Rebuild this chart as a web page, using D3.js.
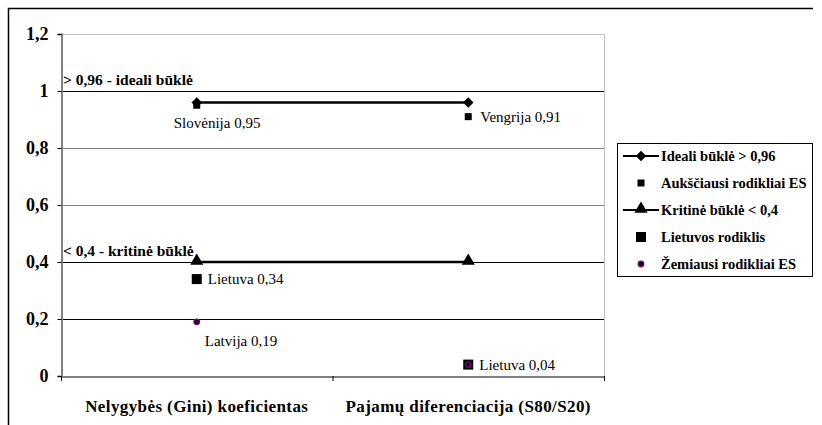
<!DOCTYPE html>
<html><head><meta charset="utf-8">
<script src="https://cdn.jsdelivr.net/npm/d3@7"></script>
<style>body{margin:0;background:#fff}svg{display:block}</style>
</head><body><svg id="c" width="822" height="425"></svg>
<script>
const categories = ["Nelygybės (Gini) koeficientas", "Pajamų diferenciacija (S80/S20)"];
const idealValues = [0.96, 0.96];
const highestValues = [0.95, 0.91];
const highestLabels = ["Slovėnija 0,95", "Vengrija 0,91"];
const criticalValues = [0.4, 0.4];
const lithuaniaValues = [0.34, 0.04];
const lithuaniaLabels = ["Lietuva 0,34", "Lietuva 0,04"];
const lowestValues = [0.19, 0.04];
const lowestLabels = ["Latvija 0,19", null];
const yTicks = [0, 0.2, 0.4, 0.6, 0.8, 1, 1.2];
const seriesNames = ["Ideali būklė > 0,96", "Aukščiausi rodikliai ES", "Kritinė būklė < 0,4", "Lietuvos rodiklis", "Žemiausi rodikliai ES"];
const annotations = [{v: 1, t: "> 0,96 - ideali būklė"}, {v: 0.4, t: "< 0,4 - kritinė būklė"}];

const FONT = "'Liberation Serif','Times New Roman',serif";
const svg = d3.select("#c").attr("font-family", FONT);
const L = 61, R = 604, T = 34, B = 376;
const x = d3.scaleBand().domain(categories).range([L, R]);
const y = d3.scaleLinear().domain([0, 1.2]).range([B, T]);
const cx = c => x(c) + x.bandwidth() / 2;

svg.append("path").attr("d", `M8.5,425 V8.5 H813`).attr("fill", "none").attr("stroke", "#000").attr("stroke-width", 1.5);

const darkGrid = new Set([1, 0.4, 0.2]);
svg.append("g").selectAll("line").data(yTicks.filter(v => v > 0)).join("line")
  .attr("x1", L).attr("x2", R).attr("y1", d => Math.round(y(d)) + 0.5).attr("y2", d => Math.round(y(d)) + 0.5)
  .attr("stroke", d => darkGrid.has(d) ? "#000" : "#808080").attr("stroke-width", 1);
svg.append("path").attr("d", `M${L},${T + 0.5} H${R + 0.5} V${B}`).attr("fill", "none").attr("stroke", "#c0c0c0");

const yAxis = svg.append("g").attr("transform", `translate(${L + 0.5},0)`)
  .call(d3.axisLeft(y).tickValues(yTicks).tickSize(4).tickFormat(d => String(d).replace(".", ",")));
yAxis.attr("font-family", FONT);
yAxis.select(".domain").attr("stroke", "#808080").attr("stroke-width", 2);
yAxis.selectAll(".tick line").attr("stroke", "#000");
yAxis.selectAll("text").attr("font-weight", "bold").attr("font-size", 18).attr("fill", "#000").attr("x", -13);

const xAxis = svg.append("g").attr("transform", `translate(0,${B + 0.5})`)
  .call(d3.axisBottom(x).tickSize(0).tickFormat(""));
xAxis.select(".domain").attr("stroke", "#808080").attr("stroke-width", 2);
svg.append("g").selectAll("line").data([L, L + x.bandwidth(), R]).join("line")
  .attr("x1", d => d + 0.5).attr("x2", d => d + 0.5).attr("y1", B).attr("y2", B + 5).attr("stroke", "#000");
svg.append("g").selectAll("text").data(categories).join("text")
  .attr("x", d => cx(d)).attr("y", 412).attr("text-anchor", "middle")
  .attr("font-weight", "bold").attr("font-size", 17).attr("letter-spacing", 0.4).text(d => d);

svg.append("g").selectAll("text").data(annotations).join("text")
  .attr("x", 63).attr("y", d => y(d.v) - 6).attr("font-weight", "bold").attr("font-size", 15.5).text(d => d.t);

const line = d3.line().x((d, i) => cx(categories[i])).y(d => y(d));
svg.append("path").datum(idealValues).attr("d", line).attr("fill", "none").attr("stroke", "#000").attr("stroke-width", 2.5);
svg.append("path").datum(criticalValues).attr("d", line).attr("fill", "none").attr("stroke", "#000").attr("stroke-width", 2.5);

const diamond = d3.symbol().type(d3.symbolDiamond2).size(70);
const tri = d3.symbol().type(d3.symbolTriangle).size(75);

svg.append("g").selectAll("rect").data(highestValues).join("rect")
  .attr("x", (d, i) => cx(categories[i]) - 3.5).attr("y", d => y(d) - 3.5).attr("width", 7).attr("height", 7).attr("fill", "#000");
svg.append("g").selectAll("rect").data(lithuaniaValues).join("rect")
  .attr("x", (d, i) => cx(categories[i]) - 5).attr("y", d => y(d) - 5).attr("width", 10).attr("height", 10).attr("fill", "#000");
svg.append("g").selectAll("circle").data(lowestValues).join("circle")
  .attr("cx", (d, i) => cx(categories[i])).attr("cy", d => y(d)).attr("r", 2.8)
  .attr("fill", "#000").attr("stroke", "#800080").attr("stroke-width", 1.3);
svg.append("g").selectAll("path").data(idealValues).join("path")
  .attr("transform", (d, i) => `translate(${cx(categories[i])},${y(d)})`).attr("d", diamond).attr("fill", "#000");
svg.append("g").selectAll("path").data(criticalValues).join("path")
  .attr("transform", (d, i) => `translate(${cx(categories[i])},${y(d) - 1})`).attr("d", tri).attr("fill", "#000");

const lab = svg.append("g").attr("font-size", 15);
lab.append("text").attr("x", cx(categories[0]) - 23).attr("y", y(highestValues[0]) + 23).text(highestLabels[0]);
lab.append("text").attr("x", cx(categories[1]) + 12).attr("y", y(highestValues[1]) + 5).text(highestLabels[1]);
lithuaniaValues.forEach((v, i) => lab.append("text").attr("x", cx(categories[i]) + 11).attr("y", y(v) + 5).text(lithuaniaLabels[i]));
lab.append("text").attr("x", cx(categories[0]) + 8).attr("y", y(lowestValues[0]) + 24).text(lowestLabels[0]);

const lg = svg.append("g");
lg.append("rect").attr("x", 617.5).attr("y", 143.5).attr("width", 195).attr("height", 133).attr("fill", "#fff").attr("stroke", "#000");
const rows = [156, 183, 210, 237, 264];
rows.forEach((ry, i) => {
  const mx = 641;
  if (i === 0 || i === 2) lg.append("line").attr("x1", 623).attr("x2", 659).attr("y1", ry).attr("y2", ry).attr("stroke", "#000").attr("stroke-width", 2);
  if (i === 0) lg.append("path").attr("transform", `translate(${mx},${ry})`).attr("d", diamond).attr("fill", "#000");
  if (i === 1) lg.append("rect").attr("x", mx - 3.5).attr("y", ry - 3.5).attr("width", 7).attr("height", 7).attr("fill", "#000");
  if (i === 2) lg.append("path").attr("transform", `translate(${mx},${ry - 1})`).attr("d", tri).attr("fill", "#000");
  if (i === 3) lg.append("rect").attr("x", mx - 5).attr("y", ry - 5).attr("width", 10).attr("height", 10).attr("fill", "#000");
  if (i === 4) lg.append("circle").attr("cx", mx).attr("cy", ry).attr("r", 2.8).attr("fill", "#000").attr("stroke", "#800080").attr("stroke-width", 1.3);
  lg.append("text").attr("x", 661).attr("y", ry + 5).attr("font-weight", "bold").attr("font-size", 14.5).text(seriesNames[i]);
});
</script></body></html>
